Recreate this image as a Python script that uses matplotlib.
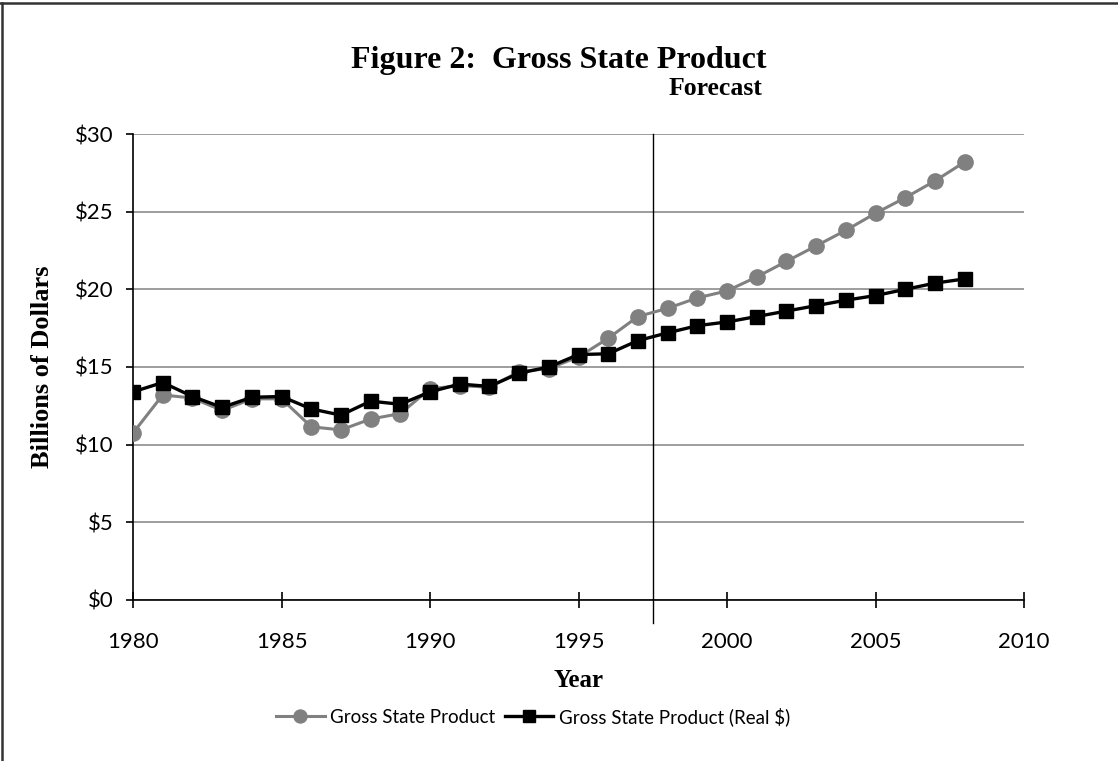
import matplotlib.pyplot as plt
import matplotlib
from matplotlib.lines import Line2D

years = list(range(1980, 2009))
gsp = [10.75, 13.2, 13.0, 12.2, 12.95, 12.95, 11.15, 10.95, 11.65, 12.0,
       13.6, 13.8, 13.7, 14.7, 14.9, 15.65, 16.85, 18.25, 18.78, 19.45,
       19.9, 20.8, 21.8, 22.8, 23.8, 24.9, 25.9, 26.98, 28.2]
gsp_real = [13.4, 14.0, 13.1, 12.4, 13.05, 13.1, 12.3, 11.9, 12.8, 12.6,
            13.4, 13.9, 13.75, 14.6, 15.0, 15.8, 15.85, 16.7, 17.2, 17.66,
            17.9, 18.25, 18.6, 18.95, 19.3, 19.6, 20.0, 20.4, 20.67]
forecast_year = 1997.5

serif = 'Liberation Serif'
sans = 'Lato'

fig = plt.figure(figsize=(11.18, 7.61), dpi=100)
ax = fig.add_axes([0.119, 0.2116, 0.797, 0.6123])

ax.plot(years, gsp, color='#808080', lw=2.2, marker='o', ms=11,
        label='Gross State Product', zorder=3)
ax.plot(years, gsp_real, color='black', lw=2.4, marker='s', ms=10.5,
        label='Gross State Product (Real $)', zorder=4)

ax.axvline(forecast_year, color='black', lw=1, ymin=-0.05, ymax=1.0,
           clip_on=False, zorder=2)
ax.text(1999.6, 32.5, 'Forecast', ha='center', va='baseline',
        fontfamily=serif, fontweight='bold', fontsize=18.5)

ax.set_xlim(1980, 2010)
ax.set_ylim(0, 30)
ax.set_xticks(range(1980, 2011, 5))
ax.set_yticks(range(0, 31, 5))
ax.set_yticklabels(['$%d' % v for v in range(0, 31, 5)])
ax.yaxis.grid(True, color='#8c8c8c', lw=1.2)
ax.set_axisbelow(True)
for s in ['top', 'right']:
    ax.spines[s].set_visible(False)
for s in ['left', 'bottom']:
    ax.spines[s].set_linewidth(1.2)
ax.tick_params(axis='x', direction='inout', length=12, width=1.2,
               labelsize=16, pad=17)
ax.tick_params(axis='y', direction='out', length=5, width=1.2,
               labelsize=16, pad=9)
for lbl in ax.get_xticklabels() + ax.get_yticklabels():
    lbl.set_fontfamily(sans)

ax.set_xlabel('Year', fontfamily=serif, fontweight='bold', fontsize=18)
ax.set_ylabel('Billions of Dollars', fontfamily=serif, fontweight='bold',
              fontsize=19)
ax.xaxis.set_label_coords(0.5, -0.148)
ax.yaxis.set_label_coords(-0.089, 0.5)

fig.text(0.5, 0.921, 'Figure 2:  Gross State Product', ha='center', va='center',
         fontfamily=serif, fontweight='bold', fontsize=23)

leg = ax.legend(loc='center', bbox_to_anchor=(0.449, -0.25), ncol=2, frameon=False,
                prop={'family': sans, 'size': 13.5}, handlelength=2.6,
                handletextpad=0.3, columnspacing=0.5, markerscale=0.85)

fig.lines.append(Line2D([0.0015, 0.0015], [0, 0.996], transform=fig.transFigure,
                        color='#333333', lw=1.8))
fig.lines.append(Line2D([0, 1], [0.996, 0.996], transform=fig.transFigure,
                        color='#333333', lw=1.8))

fig.savefig('out.png', dpi=100)
